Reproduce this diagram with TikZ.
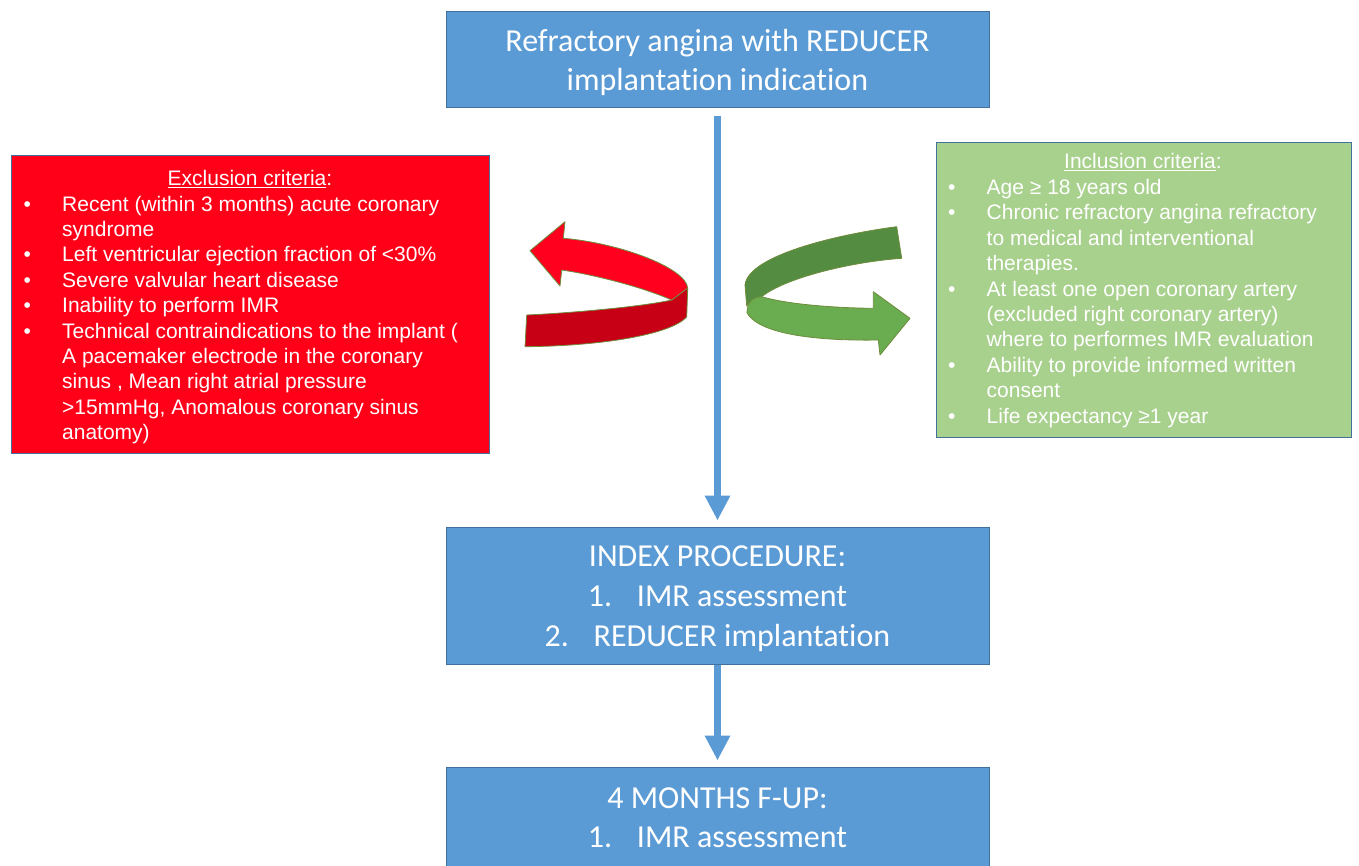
\documentclass[tikz,border=0pt]{standalone}
\usepackage{fontspec}
\setmainfont{Carlito}[Ligatures=NoCommon]
\newfontfamily\arialfont{Liberation Sans}
\usetikzlibrary{arrows.meta}
\definecolor{boxblue}{RGB}{91,155,213}
\definecolor{edgeblue}{RGB}{65,113,156}
\definecolor{exred}{RGB}{255,0,24}
\definecolor{incgreen}{RGB}{169,209,142}
\definecolor{arrred}{RGB}{255,0,30}
\definecolor{arrdarkred}{RGB}{200,0,22}
\definecolor{arrdarkgreen}{RGB}{84,140,66}
\definecolor{arrlightgreen}{RGB}{106,172,80}
\definecolor{ribbonedge}{RGB}{110,140,60}
\newcommand{\bul}{\makebox[38.5pt][l]{\textbullet}}
\newcommand{\ind}{\hspace*{38.5pt}}
\newcommand{\numb}[1]{\makebox[49pt][l]{#1}}
\begin{document}
\begin{tikzpicture}[x=1pt,y=-1pt,
  bluebox/.style={draw=edgeblue, line width=1pt, fill=boxblue, inner sep=0pt, minimum width=543pt},
  bluetext/.style={text=white, align=center, inner sep=0pt, font=\fontsize{32}{40}\selectfont},
  critbox/.style={draw=edgeblue, line width=1pt, inner sep=0pt},
  crittext/.style={text=white, inner sep=0pt, font=\arialfont\fontsize{21}{25.4}\selectfont},
  flowarrow/.style={draw=boxblue, line width=7.5pt, -{Triangle[width=24pt,length=25pt]}},
  ribbon/.style={draw=ribbonedge, line width=0.8pt, line join=round}
]
\useasboundingbox (0,0) rectangle (1359,865);
\clip (0,0) rectangle (1359,865);

% main flow boxes
\node[bluebox, minimum height=96pt] (top) at (717.5,59) {};
\node[bluebox, minimum height=137pt] (index) at (717.5,595.5) {};
\node[bluebox, minimum height=99pt] (fup) at (717.5,816.5) {};
\node[bluetext, font=\fontsize{32}{38.5}\selectfont] (toptext) at (717.5,62.5)
  {Refractory angina with REDUCER\\implantation indication};
\node[bluetext] (indextext) at (717.5,598.5)
  {INDEX PROCEDURE:\\\numb{1.}IMR assessment\\\numb{2.}REDUCER implantation};
\node[bluetext, font=\fontsize{32}{39}\selectfont] (fuptext) at (717.5,817.5)
  {4 MONTHS F-UP:\\\numb{1.}IMR assessment};

% criteria boxes
\node[critbox, fill=exred, minimum width=478pt, minimum height=298pt] (excl) at (250,304) {};
\node[critbox, fill=incgreen, minimum width=415pt, minimum height=295pt] (incl) at (1143.5,289.5) {};

\node[crittext, anchor=base] (extitle) at (250,185.5) {\underline{Exclusion criteria}:};
\node[crittext, anchor=base west] (exlist) at (23.5,211) {\parbox[t]{460pt}{\raggedright
\bul Recent (within 3 months) acute coronary\\
\ind syndrome\\
\bul Left ventricular ejection fraction of <30\%\\
\bul Severe valvular heart disease\\
\bul Inability to perform IMR\\
\bul Technical contraindications to the implant (\\
\ind A pacemaker electrode in the coronary\\
\ind sinus , Mean right atrial pressure\\
\ind >15mmHg, Anomalous coronary sinus\\
\ind anatomy)}};

\node[crittext, anchor=base] (intitle) at (1143,168.5) {\underline{Inclusion criteria}:};
\node[crittext, anchor=base west] (inlist) at (948,194.5) {\parbox[t]{400pt}{\raggedright
\bul Age ≥ 18 years old\\
\bul Chronic refractory angina refractory\\
\ind to medical and interventional\\
\ind therapies.\\
\bul At least one open coronary artery\\
\ind (excluded right coronary artery)\\
\ind where to performes IMR evaluation\\
\bul Ability to provide informed written\\
\ind consent\\
\bul Life expectancy ≥1 year}};

% flow arrows
\draw[flowarrow, shorten <=8pt, shorten >=6pt] (top) -- (index);
\draw[flowarrow, shorten >=6pt] (index) -- (fup);

% red curved ribbon arrow
\filldraw[ribbon, fill=arrdarkred] (671.7,300) .. controls (640,307) and (570,313) .. (526.7,315)
  -- (525,346.7) .. controls (600,346) and (670,335) .. (686.7,317) -- (687.7,288) -- cycle;
\filldraw[ribbon, fill=arrred] (530,250.7) -- (565,221.7) -- (563.3,238.3)
  .. controls (620,243) and (686,268) .. (687.7,288) -- (671.7,300)
  .. controls (640,286) and (590,274) .. (561.7,270) -- (560,286) -- cycle;

% green curved ribbon arrow
\filldraw[ribbon, fill=arrdarkgreen] (896.7,226.7) .. controls (840,234) and (748,255) .. (745,285)
  -- (746.7,306) .. controls (750,300) and (755,298) .. (761.7,296.7)
  .. controls (785,278) and (850,262) .. (901.7,258.3) -- cycle;
\filldraw[ribbon, fill=arrlightgreen] (747,313) .. controls (747,303) and (752,297) .. (761.7,296.7)
  .. controls (790,305) and (840,308) .. (873.3,308.3) -- (873.3,291.7) -- (910,318.3)
  -- (880,355) -- (878.3,340) .. controls (820,341) and (760,335) .. (747,313) -- cycle;
\end{tikzpicture}
\end{document}
